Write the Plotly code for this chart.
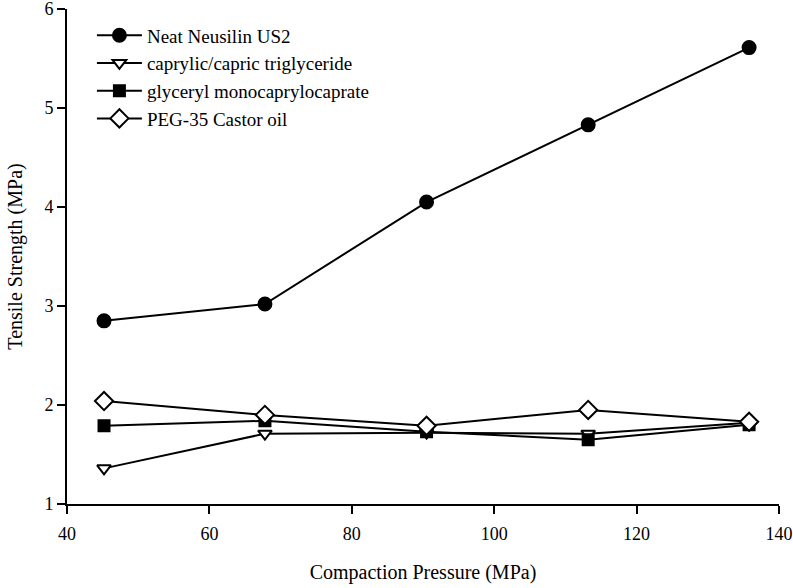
import plotly.graph_objects as go

pressure = [45.2, 67.8, 90.5, 113.2, 135.8]
neat = [2.85, 3.02, 4.05, 4.83, 5.61]
triglyceride = [1.36, 1.71, 1.72, 1.71, 1.82]
monocaprylocaprate = [1.79, 1.84, 1.73, 1.65, 1.80]
peg35 = [2.04, 1.90, 1.79, 1.95, 1.83]

names = ["Neat Neusilin US2", "caprylic/capric triglyceride",
         "glyceryl monocaprylocaprate", "PEG-35 Castor oil"]
series = [neat, triglyceride, monocaprylocaprate, peg35]
symbols = ["circle", "triangle-down", "square", "diamond"]
fills = ["black", "white", "black", "white"]
sizes = [13, 12, 11, 14]

fig = go.Figure()
for n, s, sym, fc, sz in zip(names, series, symbols, fills, sizes):
    fig.add_trace(go.Scatter(
        x=pressure, y=s, name=n, mode="lines+markers",
        line=dict(color="black", width=2),
        marker=dict(symbol=sym, size=sz, color=fc, line=dict(color="black", width=2)),
    ))

font = "Liberation Serif, Times New Roman, serif"
fig.update_layout(
    width=793, height=588,
    margin=dict(l=67, r=14, t=9, b=84),
    paper_bgcolor="white", plot_bgcolor="white",
    font=dict(family=font, color="black", size=18),
    showlegend=True,
    legend=dict(x=0.035, y=0.985, xanchor="left", yanchor="top",
                font=dict(family=font, size=19, color="black"),
                itemwidth=45, tracegroupgap=0, bgcolor="rgba(0,0,0,0)"),
    xaxis=dict(range=[40, 140], dtick=20, tick0=40, showgrid=False, zeroline=False,
               automargin=False, ticklabeloverflow="allow",
               showline=True, linecolor="black", linewidth=2,
               ticks="outside", ticklen=8, tickwidth=2, tickcolor="black",
               ticklabelstandoff=4,
               title=dict(text="Compaction Pressure (MPa)", standoff=22,
                          font=dict(size=20))),
    yaxis=dict(range=[1, 6], dtick=1, showgrid=False, zeroline=False,
               automargin=False, ticklabeloverflow="allow",
               showline=True, linecolor="black", linewidth=2,
               ticks="outside", ticklen=8, tickwidth=2, tickcolor="black",
               title=dict(text="Tensile Strength (MPa)", standoff=16,
                          font=dict(size=20))),
)
fig.write_html("out.html", config={"displayModeBar": False},
               post_script="document.body.style.margin='0';document.body.style.overflow='hidden';")
